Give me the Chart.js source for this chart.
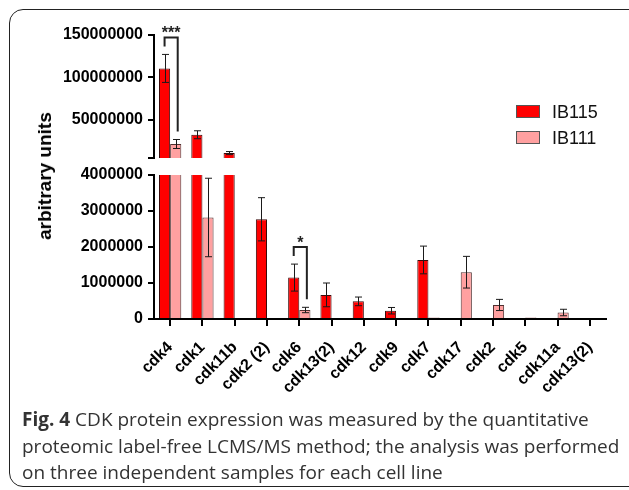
<!DOCTYPE html>
<html><head><meta charset="utf-8">
<script src="https://cdn.jsdelivr.net/npm/chart.js@4"></script>
<style>
html,body{margin:0;padding:0;background:#fff;}
#wrap{position:relative;width:629px;height:490px;overflow:hidden;background:#fff;}
#frame{position:absolute;left:9px;top:9px;width:660px;height:478px;border:1.6px solid #222;border-radius:14px;box-sizing:border-box;}
canvas{position:absolute;left:0;top:0;}
#ytitle{position:absolute;left:45px;top:176px;transform:translate(-50%,-50%) rotate(-90deg);font:bold 19px "Liberation Sans",Arial,sans-serif;white-space:nowrap;color:#000;}
.legtxt{position:absolute;font:18px "Liberation Sans",Arial,sans-serif;color:#111;line-height:20px;}
.box{position:absolute;width:24px;height:13px;border:1px solid #555;box-sizing:border-box;}
#caption{position:absolute;left:22px;top:406px;width:610px;font:19px "Open Sans",sans-serif;line-height:26.5px;color:#333;white-space:nowrap;}
</style></head><body>
<div id="wrap">
<div id="frame"></div>
<canvas id="topChart" width="629" height="490"></canvas>
<canvas id="botChart" width="629" height="490"></canvas>
<div id="ytitle">arbitrary units</div>
<div class="box" style="left:516px;top:105px;background:#ff0000"></div>
<div class="legtxt" style="left:552px;top:102px">IB115</div>
<div class="box" style="left:516px;top:131px;background:rgb(255,160,160)"></div>
<div class="legtxt" style="left:552px;top:128px">IB111</div>
<div id="caption"><b>Fig. 4</b> CDK protein expression was measured by the quantitative<br>proteomic label-free LCMS/MS method; the analysis was performed<br>on three independent samples for each cell line</div>
</div>
<script>
const categories = ['cdk4','cdk1','cdk11b','cdk2 (2)','cdk6','cdk13(2)','cdk12','cdk9','cdk7','cdk17','cdk2','cdk5','cdk11a','cdk13(2)'];
const ib115 = [110600000, 32400000, 10800000, 2770000, 1150000, 670000, 490000, 230000, 1640000, 0, 0, 0, 0, 0];
const ib115Err = [16500000, 4700000, 1800000, 600000, 375000, 330000, 120000, 90000, 385000, 0, 0, 0, 0, 0];
const ib111 = [21500000, 2820000, 0, 0, 250000, 0, 0, 0, 40000, 1300000, 390000, 40000, 180000, 0];
const ib111Err = [5300000, 1090000, 0, 0, 75000, 0, 0, 0, 0, 440000, 155000, 0, 90000, 0];
const upperRange = [5000000, 150000000];
const upperTicks = [50000000, 100000000, 150000000];
const lowerRange = [0, 4000000];
const lowerTicks = [0, 1000000, 2000000, 3000000, 4000000];
const significance = [{index: 0, label: '***'}, {index: 4, label: '*'}];
const seriesNames = ['IB115', 'IB111'];

const RED = '#ff0000', PINK = 'rgb(255,160,160)';
const FONT = '"Liberation Sans", Arial, sans-serif';

const errorBarPlugin = {
  id: 'errbars',
  afterDatasetsDraw(chart) {
    const {ctx, chartArea: a} = chart;
    const ys = chart.scales.y;
    ctx.save();
    ctx.beginPath();
    ctx.rect(a.left, a.top - 1, a.right - a.left, a.bottom - a.top + 1);
    ctx.clip();
    ctx.strokeStyle = '#1a1a1a';
    ctx.lineWidth = 1;
    chart.data.datasets.forEach((ds, di) => {
      const meta = chart.getDatasetMeta(di);
      ds.data.forEach((v, i) => {
        const e = ds.errors[i];
        if (!e) return;
        const x = Math.round(meta.data[i].x) + 0.5;
        const yT = ys.getPixelForValue(v + e), yB = ys.getPixelForValue(v - e);
        const cw = 3.5;
        ctx.beginPath();
        ctx.moveTo(x, yT); ctx.lineTo(x, yB);
        ctx.moveTo(x - cw, yT); ctx.lineTo(x + cw, yT);
        ctx.moveTo(x - cw, yB); ctx.lineTo(x + cw, yB);
        ctx.stroke();
      });
    });
    ctx.restore();
  }
};

const sigPlugin = {
  id: 'sig',
  afterDatasetsDraw(chart) {
    const {ctx, chartArea: a} = chart;
    const ys = chart.scales.y;
    const m0 = chart.getDatasetMeta(0), m1 = chart.getDatasetMeta(1);
    significance.forEach(s => {
      const i = s.index;
      const y0 = ys.getPixelForValue(ib115[i] + ib115Err[i]);
      const y1 = ys.getPixelForValue(ib111[i] + ib111Err[i]);
      if (y0 < a.top - 1 || y0 > a.bottom) return;
      const x0 = m0.data[i].x, x1 = m1.data[i].x + 2;
      const top = Math.min(y0, y1) - 17;
      ctx.save();
      ctx.strokeStyle = '#222';
      ctx.lineWidth = 2;
      ctx.beginPath();
      ctx.moveTo(x0, y0 - 8); ctx.lineTo(x0, top); ctx.lineTo(x1, top); ctx.lineTo(x1, y1 - 8);
      ctx.stroke();
      ctx.fillStyle = '#222';
      ctx.font = 'bold 16px ' + FONT;
      ctx.textAlign = 'center';
      ctx.textBaseline = 'alphabetic';
      ctx.fillText(s.label, (x0 + x1) / 2, top + 1);
      ctx.restore();
    });
  }
};

function makeChart(id, range, tickVals, showX, padTop, padBottom) {
  const allTicks = showX ? tickVals : [range[0]].concat(tickVals);
  return new Chart(document.getElementById(id), {
    type: 'bar',
    data: {
      labels: categories,
      datasets: [
        {label: seriesNames[0], data: ib115, errors: ib115Err, backgroundColor: RED, borderColor: '#3a0a0a', borderWidth: 1},
        {label: seriesNames[1], data: ib111, errors: ib111Err, backgroundColor: PINK, borderColor: '#503030', borderWidth: 1}
      ]
    },
    options: {
      responsive: false,
      animation: false,
      devicePixelRatio: 1,
      layout: {padding: {top: padTop, bottom: padBottom, left: 0, right: 23}},
      plugins: {legend: {display: false}, tooltip: {enabled: false}},
      datasets: {bar: {categoryPercentage: 0.69, barPercentage: 1.0}},
      scales: {
        x: {
          display: showX,
          offset: true,
          grid: {display: true, drawOnChartArea: false, offset: false, drawTicks: true, tickLength: 7, color: '#000', lineWidth: 2},
          border: {display: true, color: '#000', width: 2},
          ticks: {autoSkip: false, maxRotation: 45, minRotation: 45, padding: 12, color: '#000', font: {family: FONT, size: 16, weight: 'bold'}},
          afterFit: s => { if (showX) s.height = 171; else s.height = 0; }
        },
        y: {
          min: range[0], max: range[1],
          afterBuildTicks: s => { s.ticks = allTicks.map(v => ({value: v})); },
          afterFit: s => { s.width = 154; },
          grid: {display: true, drawOnChartArea: false, drawTicks: true, tickLength: 6, color: '#000', lineWidth: 2},
          border: {display: true, color: '#000', width: 2},
          ticks: {
            padding: 5, color: '#000', font: {family: FONT, size: 16, weight: 'bold'},
            callback: v => tickVals.includes(v) ? String(v) : ''
          }
        }
      }
    },
    plugins: [errorBarPlugin, sigPlugin]
  });
}

makeChart('topChart', upperRange, upperTicks, false, 35, 332);
makeChart('botChart', lowerRange, lowerTicks, true, 175, 0);
</script>
</body></html>
